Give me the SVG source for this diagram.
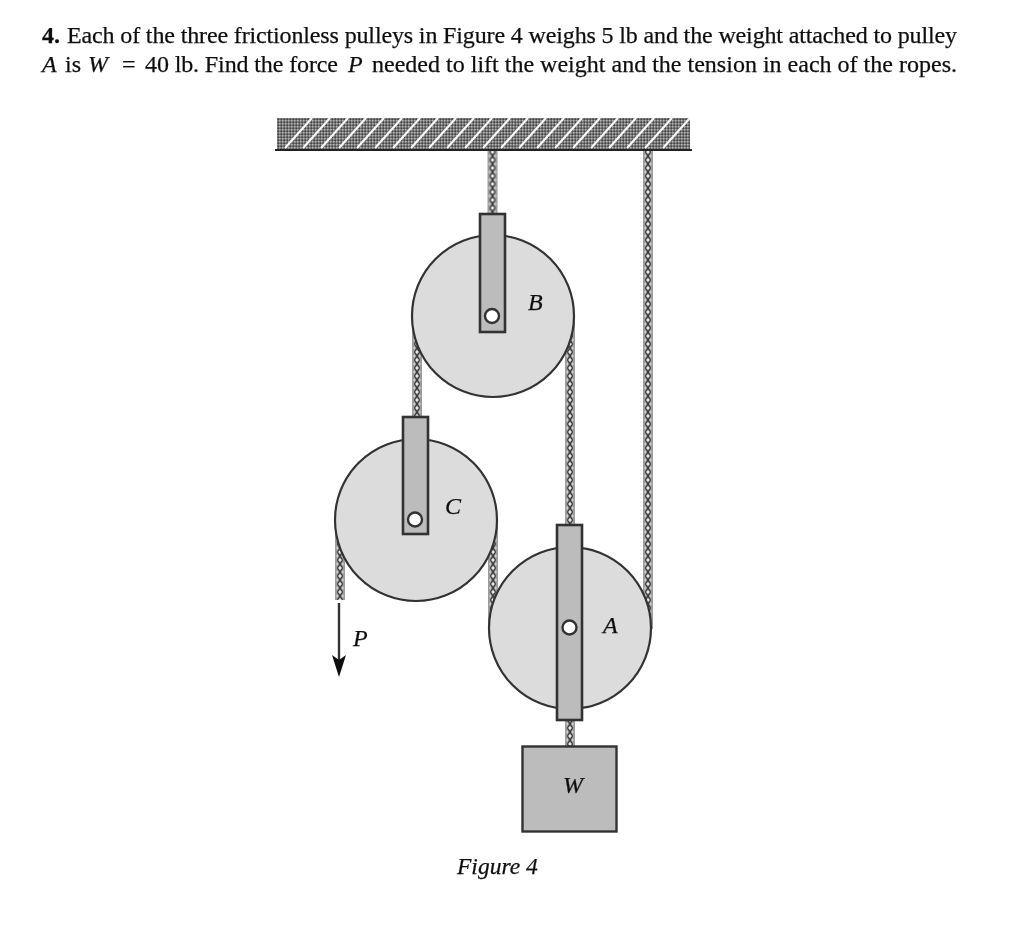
<svg xmlns="http://www.w3.org/2000/svg" width="1024" height="940" viewBox="0 0 1024 940">
<style>
text{font-family:"Liberation Serif","Times New Roman",serif;fill:#111;stroke:#111;stroke-width:.25px}
.body{font-size:24px}
.label{font-size:24px;font-style:italic}
.wheel{fill:#dcdcdc;stroke:#333;stroke-width:2.2}
.arm{fill:#bcbcbc;stroke:#333;stroke-width:2.6}
.hole{fill:#fff;stroke:#333;stroke-width:2.4}
.rope{fill:url(#ropeP)}
</style>
<defs>
<pattern id="ropeP" width="10" height="8" patternUnits="userSpaceOnUse">
<rect width="10" height="8" fill="#9c9c9c"/>
<path d="M2.500 0L7.500 8M7.500 0L2.500 8" stroke="#3a3a3a" stroke-width="1.3"/>
<path d="M5 1.800L3.200 0L6.800 0ZM5 6.200L3.200 8L6.800 8Z" fill="#ececec"/>
<path d="M1 4L2.800 2.200L2.800 5.800ZM9 4L7.200 2.200L7.200 5.800Z" fill="#dadada"/>
</pattern>
<pattern id="hatch" width="3" height="3" patternUnits="userSpaceOnUse">
<rect width="3" height="3" fill="#757575"/>
<rect width="1.5" height="1.5" fill="#b4b4b4"/>
<rect x="1.5" y="1.5" width="1.5" height="1.5" fill="#444"/>
</pattern>
<filter id="soft" x="-5%" y="-5%" width="110%" height="110%"><feGaussianBlur stdDeviation="0.45"/></filter>
</defs>
<rect width="1024" height="940" fill="#fff"/>
<g id="problem-text" filter="url(#soft)">
<text class="body" y="43"><tspan x="42" font-weight="bold">4.</tspan><tspan x="67" textLength="890" lengthAdjust="spacing">Each of the three frictionless pulleys in Figure 4 weighs 5 lb and the weight attached to pulley</tspan></text>
<text class="body" y="72"><tspan x="42" font-style="italic">A</tspan><tspan x="65">is</tspan><tspan x="88" font-style="italic">W</tspan><tspan x="122">=</tspan><tspan x="145" textLength="193" lengthAdjust="spacing">40 lb. Find the force</tspan><tspan x="348" font-style="italic">P</tspan><tspan x="372" textLength="585" lengthAdjust="spacing">needed to lift the weight and the tension in each of the ropes.</tspan></text>
</g>
<g filter="url(#soft)">
<g id="ceiling">
<rect x="277" y="118" width="413" height="32" fill="url(#hatch)"/>
<path d="M285 148L312 118M303 148L330 118M321 148L348 118M339 148L366 118M357 148L384 118M375 148L402 118M393 148L420 118M411 148L438 118M429 148L456 118M447 148L474 118M465 148L492 118M483 148L510 118M501 148L528 118M519 148L546 118M537 148L564 118M555 148L582 118M573 148L600 118M591 148L618 118M609 148L636 118M627 148L654 118M645 148L672 118M663 148L690 118" stroke="#f8f8f8" stroke-width="2.1" fill="none"/>
<path d="M275 150H692" stroke="#222" stroke-width="2"/>
</g>
<g id="connectors">
<rect class="rope" transform="translate(487.500 0)" y="151" width="10" height="64"/>
<rect class="rope" transform="translate(643 0)" y="151" width="10" height="478"/>
<rect class="rope" transform="translate(412 0)" y="316" width="10" height="102"/>
<rect class="rope" transform="translate(565 0)" y="316" width="10" height="210"/>
<rect class="rope" transform="translate(335 0)" y="520" width="10" height="80"/>
<rect class="rope" transform="translate(488 0)" y="520" width="10" height="109"/>
<rect class="rope" transform="translate(565 0)" y="719" width="10" height="28"/>
<path d="M339 603V660" stroke="#333" stroke-width="2.4" fill="none"/>
<path d="M332 655L339 660L346 655L339 677Z" fill="#111"/>
</g>
<g id="pulley-B">
<circle class="wheel" cx="493" cy="316" r="81"/>
<rect class="arm" x="480" y="214" width="25" height="118"/>
<circle class="hole" cx="492" cy="316" r="7"/>
<text class="label" x="528" y="310">B</text>
</g>
<g id="pulley-C">
<circle class="wheel" cx="416" cy="520" r="81"/>
<rect class="arm" x="403" y="417" width="25" height="117"/>
<circle class="hole" cx="415" cy="519.500" r="7"/>
<text class="label" x="445" y="514">C</text>
</g>
<g id="pulley-A">
<circle class="wheel" cx="570" cy="628" r="81"/>
<rect class="arm" x="557" y="525" width="25" height="195"/>
<circle class="hole" cx="569.500" cy="627.500" r="7"/>
<text class="label" x="603" y="633">A</text>
</g>
<g id="weight-W">
<rect x="522.500" y="746.500" width="94" height="85" fill="#bcbcbc" stroke="#333" stroke-width="2.4"/>
<text class="label" x="563" y="793">W</text>
</g>
<g id="load-P"><text class="label" x="353" y="646">P</text></g>
<g id="caption"><text x="457" y="874" style="font-size:23.500px;font-style:italic">Figure 4</text></g>
</g>
</svg>
